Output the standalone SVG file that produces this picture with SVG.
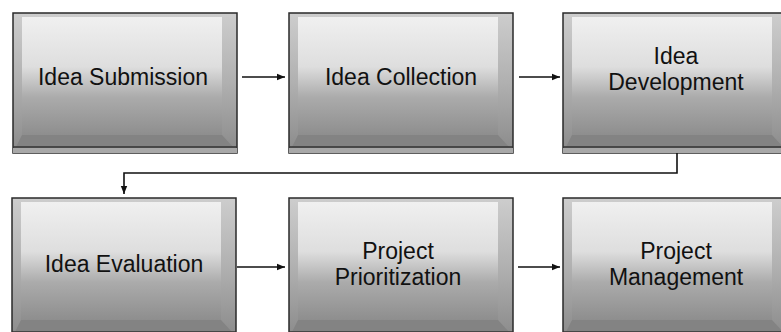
<svg xmlns="http://www.w3.org/2000/svg" width="781" height="332" viewBox="0 0 781 332">
<defs>
<linearGradient id="frame" x1="0" y1="0" x2="0" y2="1">
<stop offset="0" stop-color="#cdcdcd"/>
<stop offset="0.5" stop-color="#b0b0b0"/>
<stop offset="1" stop-color="#8a8a8a"/>
</linearGradient>
<linearGradient id="panel" x1="0" y1="0" x2="0" y2="1">
<stop offset="0" stop-color="#f0f0f0"/>
<stop offset="0.42" stop-color="#dedede"/>
<stop offset="0.68" stop-color="#ababab"/>
<stop offset="1" stop-color="#8e8e8e"/>
</linearGradient>
<marker id="arr" viewBox="0 0 10 10" refX="10" refY="5" markerWidth="8" markerHeight="8" markerUnits="userSpaceOnUse" orient="auto">
<path d="M0,1 L10,5 L0,9 Z" fill="#111"/>
</marker>
<g id="box">
<rect x="0" y="0" width="224" height="140" fill="url(#frame)" stroke="#2a2a2a" stroke-width="1.5"/>
<rect x="9" y="4" width="200" height="118" fill="url(#panel)"/>
<polygon points="9,122 209,122 220,134 3,134" fill="#838383"/>
<line x1="0" y1="134" x2="224" y2="134" stroke="#333" stroke-width="1.5"/>
<rect x="0" y="135" width="224" height="5" fill="#a8a8a8"/>
</g>
</defs>
<style>
.lbl{font-family:"Liberation Sans",Arial,sans-serif;font-size:23px;fill:#111;text-anchor:middle}
.con{stroke:#111;stroke-width:1.6;fill:none}
</style>
<g id="n1"><use href="#box" x="13" y="13"/><text class="lbl" x="123" y="85">Idea Submission</text></g>
<g id="n2"><use href="#box" x="289" y="13"/><text class="lbl" x="401" y="85">Idea Collection</text></g>
<g id="n3"><use href="#box" x="563" y="13"/><text class="lbl" x="676" y="64">Idea</text><text class="lbl" x="676" y="90">Development</text></g>
<g id="n4"><use href="#box" x="12" y="198"/><text class="lbl" x="124" y="272">Idea Evaluation</text></g>
<g id="n5"><use href="#box" x="289" y="198"/><text class="lbl" x="398" y="259">Project</text><text class="lbl" x="398" y="285">Prioritization</text></g>
<g id="n6"><use href="#box" x="563" y="198"/><text class="lbl" x="676" y="259">Project</text><text class="lbl" x="676" y="285">Management</text></g>
<g id="connectors">
<line class="con" x1="242" y1="77" x2="285" y2="77" marker-end="url(#arr)"/>
<line class="con" x1="519" y1="77" x2="560" y2="77" marker-end="url(#arr)"/>
<polyline class="con" points="677,153 677,173 124,173 124,194" marker-end="url(#arr)"/>
<line class="con" x1="237" y1="267" x2="285" y2="267" marker-end="url(#arr)"/>
<line class="con" x1="518" y1="267" x2="560" y2="267" marker-end="url(#arr)"/>
</g>
</svg>
